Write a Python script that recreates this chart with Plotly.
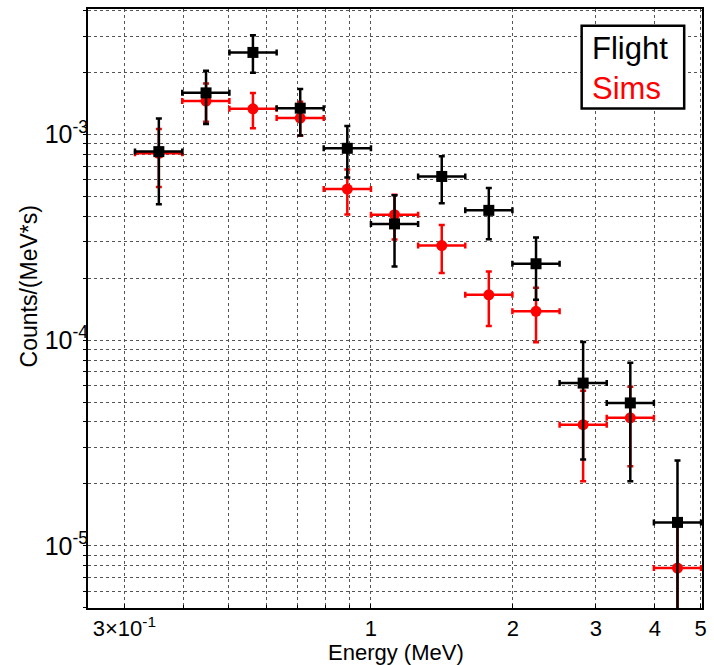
import plotly.graph_objects as go

# Energy bins (MeV): centres and edges (equal log width)
energy = [0.355, 0.447, 0.562, 0.708, 0.891, 1.122, 1.413, 1.778, 2.239, 2.818, 3.548, 4.467]
e_low = [0.316, 0.398, 0.501, 0.631, 0.794, 1.000, 1.259, 1.585, 1.995, 2.512, 3.162, 3.981]
e_high = [0.398, 0.501, 0.631, 0.794, 1.000, 1.259, 1.585, 1.995, 2.512, 3.162, 3.981, 5.012]

# Flight data: rate, upper and lower error bounds (counts / (MeV*s))
flight = [8.24e-4, 1.59e-3, 2.50e-3, 1.34e-3, 8.55e-4, 3.67e-4, 6.24e-4, 4.27e-4, 2.35e-4, 6.18e-5, 4.95e-5, 1.30e-5]
flight_hi = [1.195e-3, 2.035e-3, 3.03e-3, 1.66e-3, 1.098e-3, 5.05e-4, 7.82e-4, 5.48e-4, 3.15e-4, 9.8e-5, 7.76e-5, 2.6e-5]
flight_lo = [4.57e-4, 1.123e-3, 1.99e-3, 9.86e-4, 6.17e-4, 2.28e-4, 4.62e-4, 3.09e-4, 1.571e-4, 2.63e-5, 2.06e-5, 3.0e-6]

# Simulation
sims = [8.09e-4, 1.45e-3, 1.33e-3, 1.20e-3, 5.42e-4, 4.07e-4, 2.88e-4, 1.66e-4, 1.38e-4, 3.88e-5, 4.19e-5, 7.8e-6]
sims_hi = [1.062e-3, 1.766e-3, 1.587e-3, 1.44e-3, 6.75e-4, 5.09e-4, 3.62e-4, 2.157e-4, 1.795e-4, 5.68e-5, 5.93e-5, 1.25e-5]
sims_lo = [5.54e-4, 1.152e-3, 1.069e-3, 9.86e-4, 4.08e-4, 3.08e-4, 2.12e-4, 1.172e-4, 9.77e-5, 2.06e-5, 2.44e-5, 3.0e-6]

x_tickvals = [0.3, 1, 2, 3, 4, 5]
x_ticktext = ["3\u00d710<sup>-1</sup>", "1", "2", "3", "4", "5"]
x_minor = [0.3, 0.4, 0.5, 0.6, 0.7, 0.8, 0.9, 1, 2, 3, 4, 5]
y_tickvals = [1e-5, 1e-4, 1e-3]
y_ticktext = ["10<sup>-5</sup>", "10<sup>-4</sup>", "10<sup>-3</sup>"]
y_minor = [m * 10 ** k for k in (-6, -5, -4, -3) for m in range(1, 10)]

FONT = "Liberation Sans, Arial, sans-serif"


def errs(c, lo, hi):
    return [h - v for v, h in zip(c, hi)], [v - l for v, l in zip(c, lo)]


fig = go.Figure()
for name, vals, lo, hi, color, sym, size in [
    ("Sims", sims, sims_lo, sims_hi, "red", "circle", 11),
    ("Flight", flight, flight_lo, flight_hi, "black", "square", 11),
]:
    up, dn = errs(vals, lo, hi)
    xp = [h - e for e, h in zip(energy, e_high)]
    xm = [e - l for e, l in zip(energy, e_low)]
    fig.add_trace(go.Scatter(
        x=energy, y=vals, mode="markers", name=name,
        marker=dict(symbol=sym, size=size, color=color),
        error_y=dict(type="data", symmetric=False, array=up, arrayminus=dn,
                     color=color, thickness=2.5, width=3),
        error_x=dict(type="data", symmetric=False, array=xp, arrayminus=xm,
                     color=color, thickness=2.5, width=3),
        showlegend=False,
    ))

grid = dict(showgrid=True, gridcolor="#555", griddash="dot", gridwidth=1)
fig.update_xaxes(
    type="log", range=[-0.6, 0.702],
    tickmode="array", tickvals=x_tickvals, ticktext=x_ticktext,
    ticks="inside", ticklen=4, tickcolor="black",
    minor=dict(tickmode="array", tickvals=x_minor, ticks="inside", ticklen=3,
               tickcolor="black", **grid),
    showline=True, linecolor="black", linewidth=2, mirror=True,
    tickfont=dict(family=FONT, size=22, color="black"),
    zeroline=False, **grid,
)
fig.update_yaxes(
    type="log", range=[-5.302, -2.391],
    tickmode="array", tickvals=y_tickvals, ticktext=y_ticktext,
    ticks="outside", ticklen=3, tickcolor="black", ticklabelstandoff=-10,
    minor=dict(tickmode="array", tickvals=y_minor, ticks="outside", ticklen=3,
               tickcolor="black", **grid),
    showline=True, linecolor="black", linewidth=2, mirror=True,
    tickfont=dict(family=FONT, size=25, color="black"),
    zeroline=False, **grid,
)

fig.add_annotation(
    text="Energy (MeV)", xref="paper", yref="paper", x=0.502, y=-0.099,
    xanchor="center", yanchor="bottom", showarrow=False,
    font=dict(family=FONT, size=22, color="black"),
)
fig.add_annotation(
    text="Counts/(MeV*s)", xref="paper", yref="paper", x=-0.096, y=0.537,
    xanchor="center", yanchor="middle", textangle=-90, showarrow=False,
    font=dict(family=FONT, size=23, color="black"),
)
# legend box
fig.add_shape(type="rect", xref="paper", yref="paper",
              x0=0.804, x1=0.971, y0=0.834, y1=0.972,
              line=dict(color="black", width=2.5), fillcolor="white", layer="above")
fig.add_annotation(
    text="Flight<br><span style='color:red'>Sims</span>",
    xref="paper", yref="paper", x=0.817, y=0.901,
    xanchor="left", yanchor="middle", align="left", showarrow=False,
    font=dict(family=FONT, size=31, color="black"),
)

fig.update_layout(
    width=714, height=665,
    margin=dict(l=88, r=9, t=7, b=57),
    paper_bgcolor="white", plot_bgcolor="white",
)
fig.write_html("out.html")
